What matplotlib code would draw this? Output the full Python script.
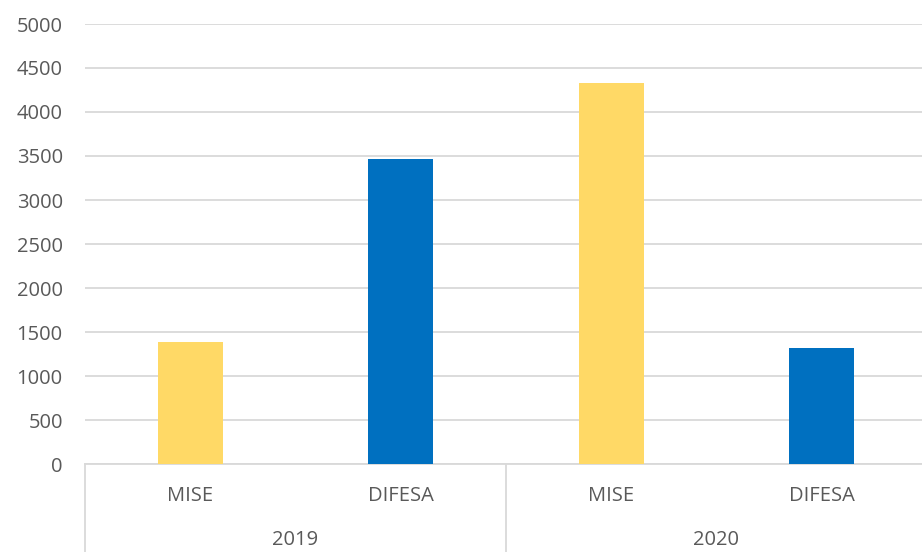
import matplotlib.pyplot as plt
import matplotlib.transforms as mtransforms

# dati
anni = ["2019", "2020"]
categorie = ["MISE", "DIFESA", "MISE", "DIFESA"]
valori = [1390, 3465, 4325, 1320]
colori = ["#FFD966", "#0070C0", "#FFD966", "#0070C0"]
tick_y = [0, 500, 1000, 1500, 2000, 2500, 3000, 3500, 4000, 4500, 5000]

plt.rcParams['font.family'] = ['Open Sans', 'DejaVu Sans']
grigio = "#595959"
fs = 14.5

fig = plt.figure(figsize=(9.22, 5.52), dpi=100)
# l'area del grafico esce un po' a destra, come nell'originale
ax = fig.add_axes([85 / 922, 88 / 552, 842 / 922, 440 / 552])

x = list(range(len(categorie)))
ax.bar(x, valori, width=0.31, color=colori, edgecolor="none", zorder=3)

ax.set_xlim(-0.5, len(categorie) - 0.5)
ax.set_ylim(0, 5000)
ax.set_yticks(tick_y)
ax.set_yticklabels([str(v) for v in tick_y], fontsize=fs, color=grigio)
ax.yaxis.grid(True, color="#D9D9D9", linewidth=1.3, zorder=0)
ax.tick_params(axis="y", length=0, pad=16)

ax.set_xticks([])

for s in ["top", "right", "left"]:
    ax.spines[s].set_visible(False)
ax.spines["bottom"].set_color("#D9D9D9")
ax.spines["bottom"].set_linewidth(1.3)

# asse a due livelli: categorie, anni e linee verticali
trans = mtransforms.blended_transform_factory(ax.transData, ax.transAxes)
for xi, cat in zip(x, categorie):
    ax.text(xi, -(32 / 440), cat, transform=trans, ha="center",
            va="center", fontsize=fs, color=grigio)
fondo = -(88 / 440)
for xv in [-0.5, 1.5, 3.5]:
    ax.plot([xv, xv], [0, fondo], transform=trans, color="#D9D9D9",
            linewidth=1.3, clip_on=False)
for i, anno in enumerate(anni):
    ax.text(i * 2 + 0.5, -(76 / 440), anno, transform=trans, ha="center",
            va="center", fontsize=fs, color=grigio)

fig.savefig("out.png", dpi=100)
